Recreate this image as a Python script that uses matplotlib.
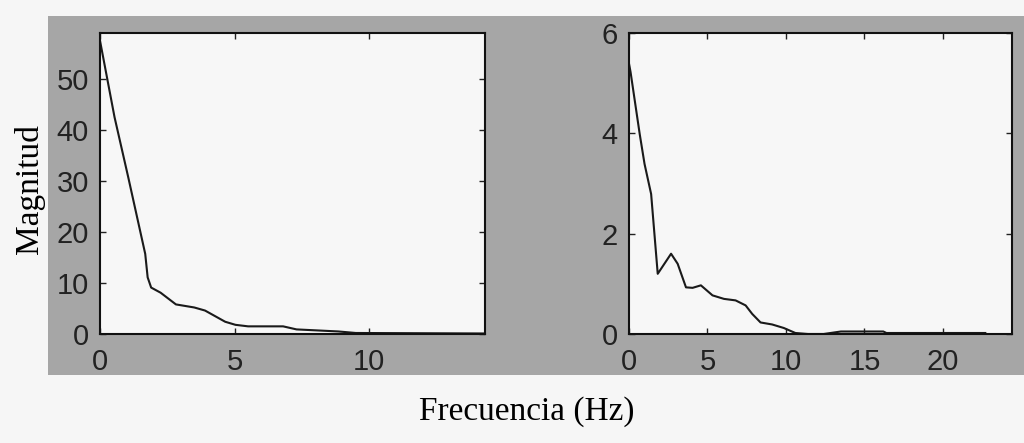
import matplotlib.pyplot as plt
from matplotlib.patches import Rectangle

# left spectrum (Hz, magnitude)
freq1 = [0, 0.54, 1.05, 1.68, 1.77, 1.9, 2.25, 2.82, 3.5, 3.9, 4.65, 5.03, 5.5, 6.8, 7.3, 8.85, 9.5, 14.3]
mag1 = [57.5, 42.5, 30.7, 15.7, 11.1, 9.1, 8.1, 5.8, 5.2, 4.6, 2.4, 1.8, 1.5, 1.5, 0.9, 0.5, 0.2, 0.1]

# right spectrum
freq2 = [0, 0.1, 0.68, 0.99, 1.41, 1.83, 2.68, 3.1, 3.63, 4.05, 4.58, 5.32, 6.05, 6.79, 7.43,
         7.85, 8.38, 9.12, 9.86, 10.6, 11.4, 12.4, 13.5, 16.2, 16.4, 22.7]
mag2 = [5.39, 5.22, 3.99, 3.39, 2.79, 1.2, 1.6, 1.4, 0.93, 0.92, 0.97, 0.77, 0.7, 0.67, 0.57,
        0.4, 0.23, 0.19, 0.12, 0.02, 0.0, 0.0, 0.05, 0.05, 0.02, 0.02]

xticks1 = [0, 5, 10]
yticks1 = [0, 10, 20, 30, 40, 50]
xticks2 = [0, 5, 10, 15, 20]
yticks2 = [0, 2, 4, 6]

W, H = 1024, 443
fig = plt.figure(figsize=(W / 100, H / 100), dpi=100)
fig.patch.set_facecolor('#f6f6f6')

# gray panel behind the axes
fig.patches.append(Rectangle((48 / W, 1 - 375 / H), 1 - 48 / W, 359 / H,
                             transform=fig.transFigure, facecolor='#a6a6a6',
                             edgecolor='none', zorder=-10))

ax1 = fig.add_axes([100 / W, 1 - 334 / H, 385 / W, 301 / H])
ax2 = fig.add_axes([629 / W, 1 - 334 / H, 383 / W, 301 / H])

setups = [(ax1, freq1, mag1, xticks1, yticks1, (0, 14.3), (0, 59)),
          (ax2, freq2, mag2, xticks2, yticks2, (0, 24.4), (0, 6))]

for ax, f, m, xt, yt, xl, yl in setups:
    ax.set_facecolor('#f7f7f7')
    ax.plot(f, m, color='#1a1a1a', lw=1.5, clip_on=True)
    ax.set_xlim(*xl)
    ax.set_ylim(*yl)
    ax.set_xticks(xt)
    ax.set_yticks(yt)
    ax.tick_params(direction='in', length=4, width=1, top=True, right=True,
                   labelsize=21, colors='#222222')
    ax.tick_params(axis='x', pad=10)
    ax.tick_params(axis='y', pad=8)
    for lab in ax.get_xticklabels() + ax.get_yticklabels():
        lab.set_family('Liberation Sans')
    for s in ax.spines.values():
        s.set_linewidth(1.5)
        s.set_color('#111111')

fig.text(30 / W, 1 - 189 / H, 'Magnitud', family='Liberation Serif', fontsize=24,
         rotation=90, ha='center', va='center')
fig.text(527 / W, 1 - 412 / H, 'Frecuencia (Hz)', family='Liberation Serif',
         fontsize=24, ha='center', va='center')

fig.savefig('out.png', dpi=100, facecolor=fig.get_facecolor())
